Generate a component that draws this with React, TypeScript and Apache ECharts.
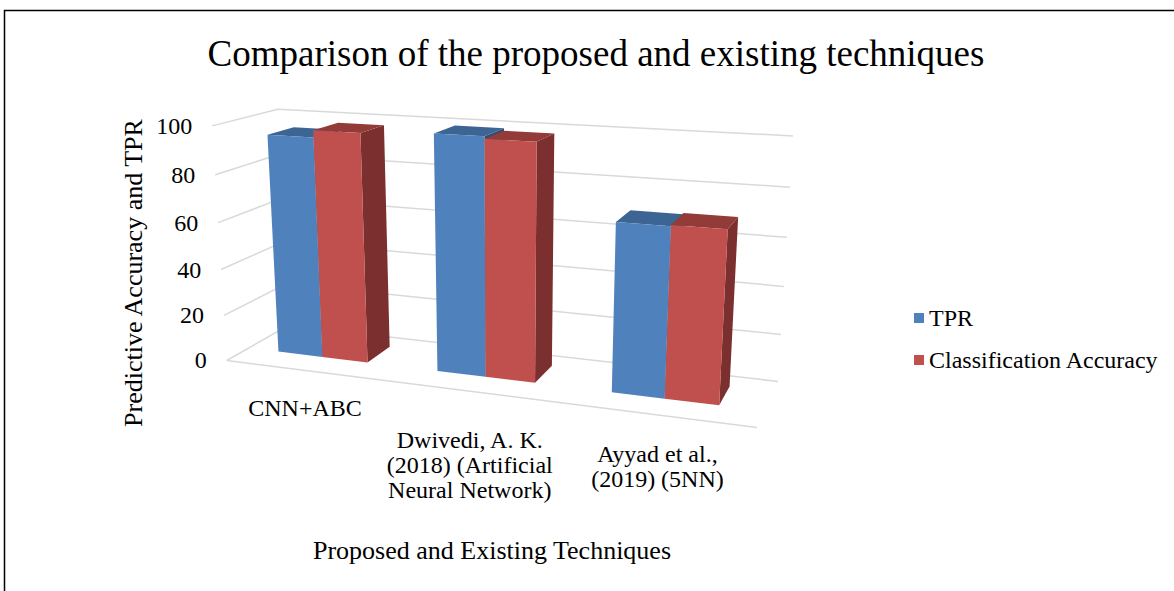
import React, { useEffect, useRef } from "react";
import * as echarts from "echarts";

// ---------- data ----------
const categories = [
  "CNN+ABC",
  "Dwivedi, A. K.\n(2018) (Artificial\nNeural Network)",
  "Ayyad et al.,\n(2019) (5NN)",
];
const tprValues = [94.5, 99, 69];
const accuracyValues = [97.5, 98, 69.5];
const yTicks = [0, 20, 40, 60, 80, 100];
const seriesNames = ["TPR", "Classification Accuracy"];

// ---------- styles / layout ----------
const FONT = "'Liberation Serif', 'Times New Roman', serif";
const BLUE = { front: "#4F81BD", top: "#3D6594", side: "#2F4F74" };
const RED = { front: "#C0504D", top: "#923B39", side: "#7B2F2E" };
const GRID_COLOR = "#D9D9D9";

// Screen positions of the 3D plot-box corners (world cube: X 0..1 across the
// categories, Y 0..1 along the value axis, Z 0 = back wall .. 1 = front edge).
const CALIBRATION = [
  { w: [0, 0, 0], s: [288, 326] },
  { w: [0, 1, 0], s: [278, 109] },
  { w: [1, 1, 0], s: [793, 136] },
  { w: [1, 0, 0], s: [778, 381] },
  { w: [0, 0, 1], s: [227, 360] },
  { w: [0, 1, 1], s: [212, 126] },
  { w: [1, 0, 1], s: [757, 428] },
];
const BAR_Z_FRONT = 0.66;
const BAR_Z_BACK = 0.24;
const BAR_X_SHIFT = -0.006;
const GAP_WIDTH = 1.5;
const TICK_LABEL_GAP = 20;
const LABEL_DY = [25, 36, 27];
const LABEL_DX = [0, -3, 0];
const HG = { left: 0, top: 0, width: 100, height: 100 }; // hidden scale grid

function solveCamera(pts: { w: number[]; s: number[] }[]) {
  const S = 1000;
  const rows: number[][] = [];
  const rhs: number[] = [];
  for (const { w, s } of pts) {
    const [X, Y, Z] = w;
    const u = s[0] / S;
    const v = s[1] / S;
    rows.push([X, Y, Z, 1, 0, 0, 0, 0, -u * X, -u * Y, -u * Z]);
    rhs.push(u);
    rows.push([0, 0, 0, 0, X, Y, Z, 1, -v * X, -v * Y, -v * Z]);
    rhs.push(v);
  }
  const n = 11;
  const M: number[][] = [];
  for (let i = 0; i < n; i++) {
    const r = new Array(n + 1).fill(0);
    for (let k = 0; k < rows.length; k++) {
      for (let j = 0; j < n; j++) r[j] += rows[k][i] * rows[k][j];
      r[n] += rows[k][i] * rhs[k];
    }
    M.push(r);
  }
  for (let c = 0; c < n; c++) {
    let piv = c;
    for (let r = c + 1; r < n; r++) if (Math.abs(M[r][c]) > Math.abs(M[piv][c])) piv = r;
    const tmp = M[c];
    M[c] = M[piv];
    M[piv] = tmp;
    for (let r = 0; r < n; r++) {
      if (r === c) continue;
      const f = M[r][c] / M[c][c];
      for (let j = c; j <= n; j++) M[r][j] -= f * M[c][j];
    }
  }
  const p = M.map((r, i) => r[n] / r[i]);
  return (X: number, Y: number, Z: number): number[] => {
    const d = p[8] * X + p[9] * Y + p[10] * Z + 1;
    return [
      (S * (p[0] * X + p[1] * Y + p[2] * Z + p[3])) / d,
      (S * (p[4] * X + p[5] * Y + p[6] * Z + p[7])) / d,
    ];
  };
}

const project = solveCamera(CALIBRATION);
const toWorld = (pt: number[]) => [
  (pt[0] - HG.left) / HG.width,
  (HG.top + HG.height - pt[1]) / HG.height,
];

const makeBarRender = (slot: number, col: { front: string; top: string; side: string }) =>
  (params: any, api: any) => {
    const c = api.value(0);
    const v = api.value(1);
    const base = toWorld(api.coord([c, 0]));
    const top = toWorld(api.coord([c, v]));
    const band = api.size([1, 0])[0] / HG.width;
    const bw = band / (2 + GAP_WIDTH);
    const x0 = base[0] + BAR_X_SHIFT - bw + slot * bw;
    const x1 = x0 + bw;
    const y0 = base[1];
    const y1 = top[1];
    const zf = BAR_Z_FRONT;
    const zb = BAR_Z_BACK;
    return {
      type: "group",
      children: [
        {
          type: "polygon",
          shape: { points: [project(x1, y0, zf), project(x1, y0, zb), project(x1, y1, zb), project(x1, y1, zf)] },
          style: { fill: col.side },
        },
        {
          type: "polygon",
          shape: { points: [project(x0, y1, zf), project(x1, y1, zf), project(x1, y1, zb), project(x0, y1, zb)] },
          style: { fill: col.top },
        },
        {
          type: "polygon",
          shape: { points: [project(x0, y0, zf), project(x1, y0, zf), project(x1, y1, zf), project(x0, y1, zf)] },
          style: { fill: col.front },
        },
      ],
    };
  };

const frameRender = (params: any, api: any) => {
  const val = api.value(1);
  const y = toWorld(api.coord([0, val]))[1];
  const a = project(0, y, 1);
  const b = project(0, y, 0);
  const c = project(1, y, 0);
  const children: any[] = [
    {
      type: "polyline",
      shape: { points: [a, b, c] },
      style: { stroke: GRID_COLOR, lineWidth: 1.5, fill: null },
    },
    {
      type: "text",
      x: a[0] - TICK_LABEL_GAP,
      y: a[1],
      style: {
        text: String(val),
        fill: "#000",
        fontSize: 24,
        fontFamily: FONT,
        align: "right",
        verticalAlign: "middle",
      },
    },
  ];
  if (params.dataIndex === 0) {
    children.push({
      type: "polyline",
      shape: { points: [project(0, y, 1), project(1, y, 1)] },
      style: { stroke: GRID_COLOR, lineWidth: 1.5, fill: null },
    });
  }
  return { type: "group", children };
};

const catLabelRender = (params: any, api: any) => {
  const i = api.value(0);
  const x = toWorld(api.coord([i, 0]))[0];
  const p = project(x, 0, 1);
  return {
    type: "text",
    x: p[0] + LABEL_DX[i],
    y: p[1] + LABEL_DY[i],
    style: {
      text: categories[i],
      fill: "#000",
      fontSize: 24,
      lineHeight: 25,
      fontFamily: FONT,
      align: "center",
      verticalAlign: "top",
    },
  };
};

export default function App() {
  const ref = useRef<HTMLDivElement>(null);
  useEffect(() => {
    if (!ref.current) return;
    const chart = echarts.init(ref.current, null, { renderer: "svg" });
    chart.setOption({
      animation: false,
      backgroundColor: "#ffffff",
      grid: { ...HG, show: false },
      xAxis: { type: "category", data: categories, show: false },
      yAxis: { type: "value", min: 0, max: 100, interval: 20, show: false },
      legend: {
        data: seriesNames,
        orient: "vertical",
        left: 909,
        top: 301,
        itemWidth: 10,
        itemHeight: 10,
        itemGap: 18,
        icon: "rect",
        selectedMode: false,
        textStyle: { fontFamily: FONT, fontSize: 24, color: "#000" },
      },
      graphic: [
        {
          type: "rect",
          shape: { x: 4.5, y: 10.5, width: 1300, height: 700 },
          style: { fill: "none", stroke: "#000", lineWidth: 1.5 },
          silent: true,
        },
        {
          type: "text",
          x: 596,
          y: 53,
          style: {
            text: "Comparison of the proposed and existing techniques",
            fill: "#000",
            fontSize: 37,
            fontFamily: FONT,
            align: "center",
            verticalAlign: "middle",
          },
        },
        {
          type: "text",
          x: 133,
          y: 273,
          rotation: Math.PI / 2,
          style: {
            text: "Predictive Accuracy and TPR",
            fill: "#000",
            fontSize: 26,
            fontFamily: FONT,
            align: "center",
            verticalAlign: "middle",
          },
        },
        {
          type: "text",
          x: 492,
          y: 550,
          style: {
            text: "Proposed and Existing Techniques",
            fill: "#000",
            fontSize: 26,
            fontFamily: FONT,
            align: "center",
            verticalAlign: "middle",
          },
        },
      ],
      series: [
        {
          name: "frame",
          type: "custom",
          silent: true,
          z: 1,
          data: yTicks.map((t) => [0, t]),
          renderItem: frameRender,
        },
        {
          name: seriesNames[0],
          type: "custom",
          silent: true,
          z: 2,
          itemStyle: { color: BLUE.front },
          data: tprValues.map((v, i) => [i, v]),
          renderItem: makeBarRender(0, BLUE),
        },
        {
          name: seriesNames[1],
          type: "custom",
          silent: true,
          z: 3,
          itemStyle: { color: RED.front },
          data: accuracyValues.map((v, i) => [i, v]),
          renderItem: makeBarRender(1, RED),
        },
        {
          name: "categoryLabels",
          type: "custom",
          silent: true,
          z: 4,
          data: categories.map((_, i) => [i, 0]),
          renderItem: catLabelRender,
        },
      ],
    });
    return () => chart.dispose();
  }, []);
  return (
    <div
      ref={ref}
      style={{ position: "absolute", left: 0, top: 0, width: 1174, height: 591 }}
    />
  );
}
